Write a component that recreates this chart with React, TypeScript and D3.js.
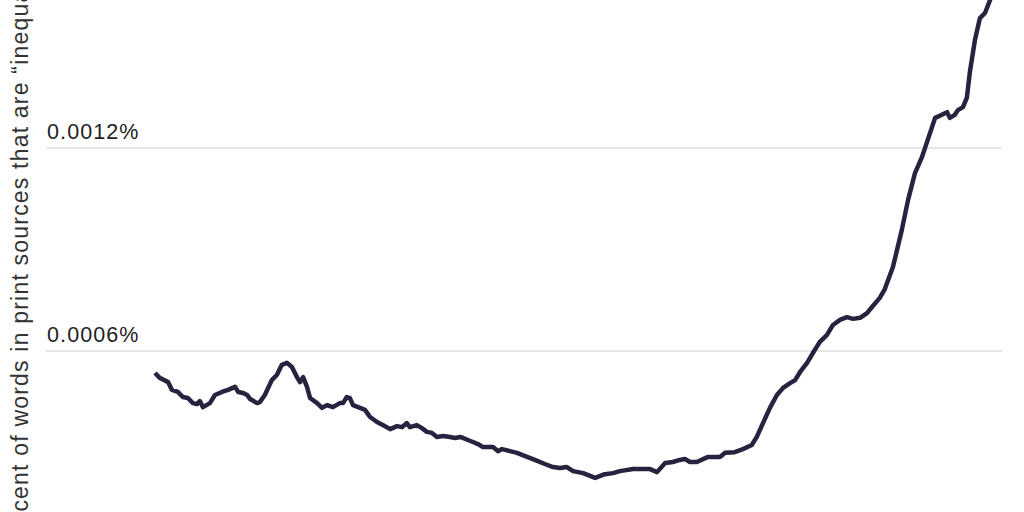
import * as d3 from "d3";

// years (the x axis itself is outside the crop)
const years = [
  1800, 1801.3, 1803.4, 1804.4, 1805.9, 1807.2, 1808.5, 1809.8, 1810.9, 1811.6,
  1812.4, 1814.2, 1815.5, 1817.3, 1818.9, 1820.7, 1821.5, 1822.8, 1823.8, 1824.6,
  1826.4, 1827.1, 1828.4, 1830.2, 1831.5, 1832.8, 1834.1, 1835.4, 1836.7, 1837.5,
  1838.3, 1839.3, 1840.1, 1841.9, 1843.2, 1844.5, 1846.0, 1847.8, 1848.6, 1849.6,
  1850.4, 1851.2, 1853.0, 1854.3, 1855.6, 1857.4, 1858.9, 1860.8, 1862.6, 1863.9,
  1865.1, 1865.9, 1867.7, 1869.0, 1870.3, 1871.6, 1872.9, 1874.5, 1876.3, 1877.6,
  1878.9, 1879.6, 1880.9, 1882.2, 1883.5, 1884.8, 1887.4, 1888.7, 1889.7, 1891.8,
  1893.6, 1896.2, 1898.2, 1900.8, 1902.9, 1904.7, 1906.5, 1908.1, 1910.7, 1913.8,
  1916.3, 1918.4, 1920.2, 1923.6, 1928.0, 1929.8, 1931.9, 1933.9, 1935.7, 1937.0,
  1938.3, 1940.1, 1943.0, 1946.1, 1947.4, 1949.9, 1952.0, 1954.3, 1955.6, 1957.2,
  1959.0, 1960.8, 1962.4, 1964.2, 1965.5, 1966.8, 1968.6, 1970.1, 1971.9, 1973.7,
  1975.3, 1977.1, 1978.9, 1980.5, 1982.3, 1984.1, 1985.6, 1987.4, 1988.7, 1990.8,
  1993.1, 1994.7, 1996.5, 1998.3, 1999.8, 2001.7, 2002.9, 2004.8, 2005.5, 2006.8,
  2007.6, 2008.9, 2009.9, 2010.7, 2012.0, 2013.3, 2014.6, 2015.9, 2017.0,
];

// share of words, in percent
const shares = [
  0.000535, 0.00052, 0.000508, 0.000485, 0.000479, 0.000464, 0.000461, 0.000446, 0.000443, 0.000452,
  0.000434, 0.000446, 0.00047, 0.000479, 0.000485, 0.000494, 0.000479, 0.000476, 0.00047, 0.000458,
  0.000446, 0.000449, 0.00047, 0.000514, 0.000529, 0.000559, 0.000565, 0.000553, 0.000523, 0.000508,
  0.000523, 0.000494, 0.000461, 0.000446, 0.000432, 0.00044, 0.000434, 0.000446, 0.000446, 0.000464,
  0.000461, 0.00044, 0.000432, 0.000426, 0.000405, 0.00039, 0.000381, 0.000369, 0.000378, 0.000375,
  0.000387, 0.000375, 0.000381, 0.000372, 0.000361, 0.000358, 0.000346, 0.000349, 0.000346, 0.000343,
  0.000346, 0.000343, 0.000337, 0.000331, 0.000325, 0.000316, 0.000316, 0.000304, 0.00031, 0.000304,
  0.000299, 0.000287, 0.000278, 0.000266, 0.000257, 0.000254, 0.000257, 0.000245, 0.000239, 0.000225,
  0.000236, 0.000239, 0.000245, 0.000251, 0.000251, 0.000242, 0.000269, 0.000272, 0.000278, 0.000281,
  0.000272, 0.000272, 0.000287, 0.000287, 0.000299, 0.000301, 0.00031, 0.000322, 0.000346, 0.000387,
  0.000432, 0.00047, 0.000491, 0.000505, 0.000514, 0.000538, 0.000565, 0.000594, 0.000627, 0.000647,
  0.000677, 0.000692, 0.0007, 0.000695, 0.000698, 0.000712, 0.000733, 0.000757, 0.000783, 0.000848,
  0.000958, 0.001046, 0.001126, 0.001173, 0.001224, 0.001289, 0.001295, 0.001306, 0.001289, 0.001298,
  0.001312, 0.001321, 0.001348, 0.001425, 0.001519, 0.001584, 0.001599, 0.001637, 0.00168,
];

const yTicks = [0.0006, 0.0012];
const yTickLabels = ["0.0006%", "0.0012%"];
const yLabel = "Percent of words in print sources that are \u201cinequality\u201d";

const width = 1024;
const height = 512;
const font = "'Liberation Sans', Arial, sans-serif";

export default function App() {
  const x = d3.scaleLinear().domain([1800, 2019]).range([155, 1002]);
  const y = d3.scaleLinear().domain([0, 0.0012]).range([554, 148]);

  const points = years.map((yr, i) => [yr, shares[i]] as [number, number]);
  const line = d3
    .line<[number, number]>()
    .x((d) => x(d[0]))
    .y((d) => y(d[1]));

  return (
    <svg
      width={width}
      height={height}
      style={{ position: "absolute", left: 0, top: 0, background: "#fff" }}
    >
      {/* the axis title runs past the crop at both ends, as in the original */}
      <text
        transform={`translate(28, 551) rotate(-90)`}
        fontFamily={font}
        fontSize={23}
        letterSpacing={1.2}
        fill="#333"
      >
        {yLabel}
      </text>
      {yTicks.map((t, i) => (
        <g key={t}>
          <line x1={46} x2={1002} y1={y(t)} y2={y(t)} stroke="#e6e6e6" strokeWidth={2} />
          <text
            x={47}
            y={y(t) - 9}
            fontFamily={font}
            fontSize={21.5}
            letterSpacing={1.1}
            fill="#222"
          >
            {yTickLabels[i]}
          </text>
        </g>
      ))}
      <path
        d={line(points) ?? ""}
        fill="none"
        stroke="#27233f"
        strokeWidth={4.5}
        strokeLinejoin="round"
      />
    </svg>
  );
}
